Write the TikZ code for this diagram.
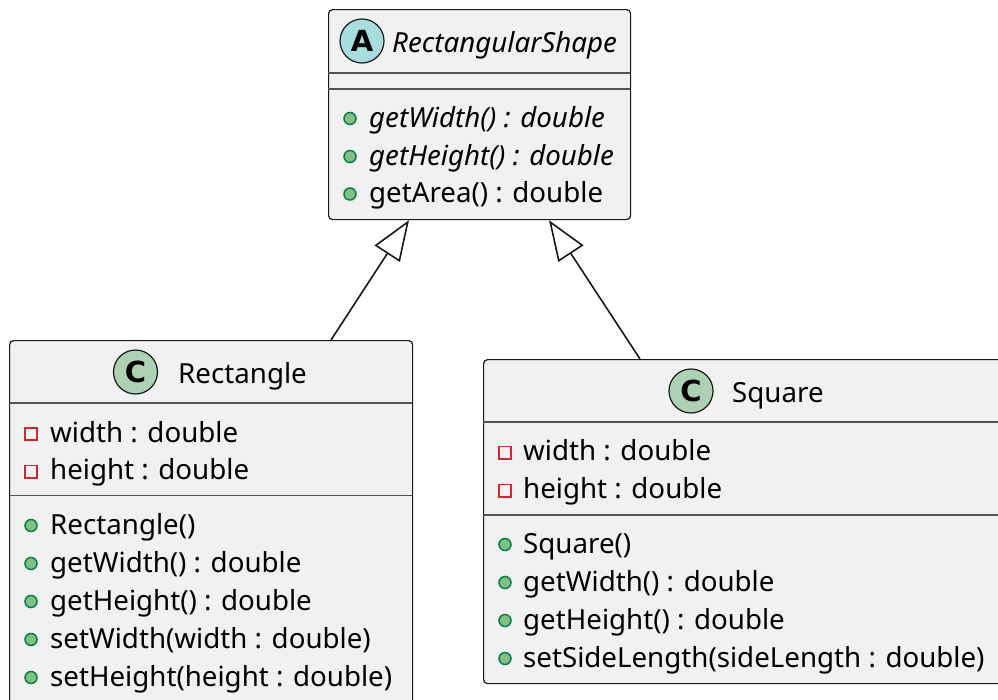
\documentclass[tikz,border=0pt]{standalone}
\usepackage{fontspec}
\setmainfont{Noto Sans}
\newfontfamily\badgefont{DejaVu Sans}
\usetikzlibrary{arrows.meta}

\definecolor{boxfill}{HTML}{F1F1F1}
\definecolor{boxline}{HTML}{181818}
\definecolor{classfill}{HTML}{ADD1B2}
\definecolor{abstractfill}{HTML}{A9DCDF}
\definecolor{pubfill}{HTML}{84BE84}
\definecolor{publine}{HTML}{038048}
\definecolor{privline}{HTML}{C82930}

\newcommand{\umlfont}{\fontsize{27.7}{34}\selectfont}

\tikzset{
	classbox/.style={draw=boxline, fill=boxfill, line width=1.2, rounded corners=4, anchor=north west, inner sep=0},
	member/.style={anchor=base west, inner sep=0, font=\umlfont},
	sepline/.style={draw=boxline!75, line width=1.2},
	pub/.style={draw=publine, fill=pubfill, line width=1.5},
	priv/.style={draw=privline, line width=1.6},
	badge/.style={circle, draw=boxline, line width=1.2, minimum size=44, inner sep=0, font=\badgefont\bfseries\fontsize{29}{29}\selectfont},
	inherit/.style={draw=boxline, line width=1.6, -{Triangle[open, length=40pt, width=30pt]}}
}

\begin{document}
\begin{tikzpicture}[x=1pt, y=-1pt]
	\clip (0,0) rectangle (998,699);
	\fill[white] (0,0) rectangle (998,699);

	% class boxes
	\node[classbox, minimum width=302, minimum height=210] (shape) at (328,9) {};
	\node[classbox, minimum width=403, minimum height=380] (rect) at (9,340) {};
	\node[classbox, minimum width=540, minimum height=324] (square) at (483,359) {};

	% RectangularShape
	\node[badge, fill=abstractfill] (shapebadge) at (362,41) {A};
	\node[member, font=\umlfont\itshape] (shapename) at (392,52) {RectangularShape};
	\draw[sepline] (328,73) -- (630,73);
	\draw[sepline] (328,89) -- (630,89);
	\draw[pub] (350,118.5) circle (6);
	\draw[pub] (350,156.5) circle (6);
	\draw[pub] (350,194) circle (6);
	\node[member, font=\umlfont\itshape] (shapem1) at (369,127) {getWidth() : double};
	\node[member, font=\umlfont\itshape] (shapem2) at (369,165) {getHeight() : double};
	\node[member] (shapem3) at (369,202) {getArea() : double};

	% Rectangle
	\node[badge, fill=classfill] (rectbadge) at (135.5,372) {C};
	\node[member] (rectname) at (178,383.5) {Rectangle};
	\draw[sepline] (9,403) -- (412,403);
	\draw[priv] (24.8,427.8) rectangle (37.2,440.2);
	\draw[priv] (24.8,465.3) rectangle (37.2,477.7);
	\node[member] (recta1) at (50,442) {width : double};
	\node[member] (recta2) at (50,479.5) {height : double};
	\draw[sepline] (9,495.5) -- (412,495.5);
	\draw[pub] (31,525.5) circle (6);
	\draw[pub] (31,563.5) circle (6);
	\draw[pub] (31,601.5) circle (6);
	\draw[pub] (31,639.5) circle (6);
	\draw[pub] (31,677.5) circle (6);
	\node[member] (rectm1) at (50,534) {Rectangle()};
	\node[member] (rectm2) at (50,572) {getWidth() : double};
	\node[member] (rectm3) at (50,610) {getHeight() : double};
	\node[member] (rectm4) at (50,648) {setWidth(width : double)};
	\node[member] (rectm5) at (50,686) {setHeight(height : double)};

	% Square
	\node[badge, fill=classfill] (squarebadge) at (691,391) {C};
	\node[member] (squarename) at (732,402.5) {Square};
	\draw[sepline] (483,422) -- (1023,422);
	\draw[priv] (498.8,446.3) rectangle (511.2,458.7);
	\draw[priv] (498.8,484.3) rectangle (511.2,496.7);
	\node[member] (squarea1) at (523,460.5) {width : double};
	\node[member] (squarea2) at (523,498.5) {height : double};
	\draw[sepline] (483,515) -- (1023,515);
	\draw[pub] (505,544.5) circle (6);
	\draw[pub] (505,582.5) circle (6);
	\draw[pub] (505,620.5) circle (6);
	\draw[pub] (505,658.5) circle (6);
	\node[member] (squarem1) at (523,553) {Square()};
	\node[member] (squarem2) at (523,591) {getWidth() : double};
	\node[member] (squarem3) at (523,629) {getHeight() : double};
	\node[member] (squarem4) at (523,667) {setSideLength(sideLength : double)};

	% generalisation
	\draw[inherit] ([xshift=322pt]rect.north west) -- ([xshift=81pt]shape.south west);
	\draw[inherit] ([xshift=157pt]square.north west) -- ([xshift=221pt]shape.south west);
\end{tikzpicture}
\end{document}
